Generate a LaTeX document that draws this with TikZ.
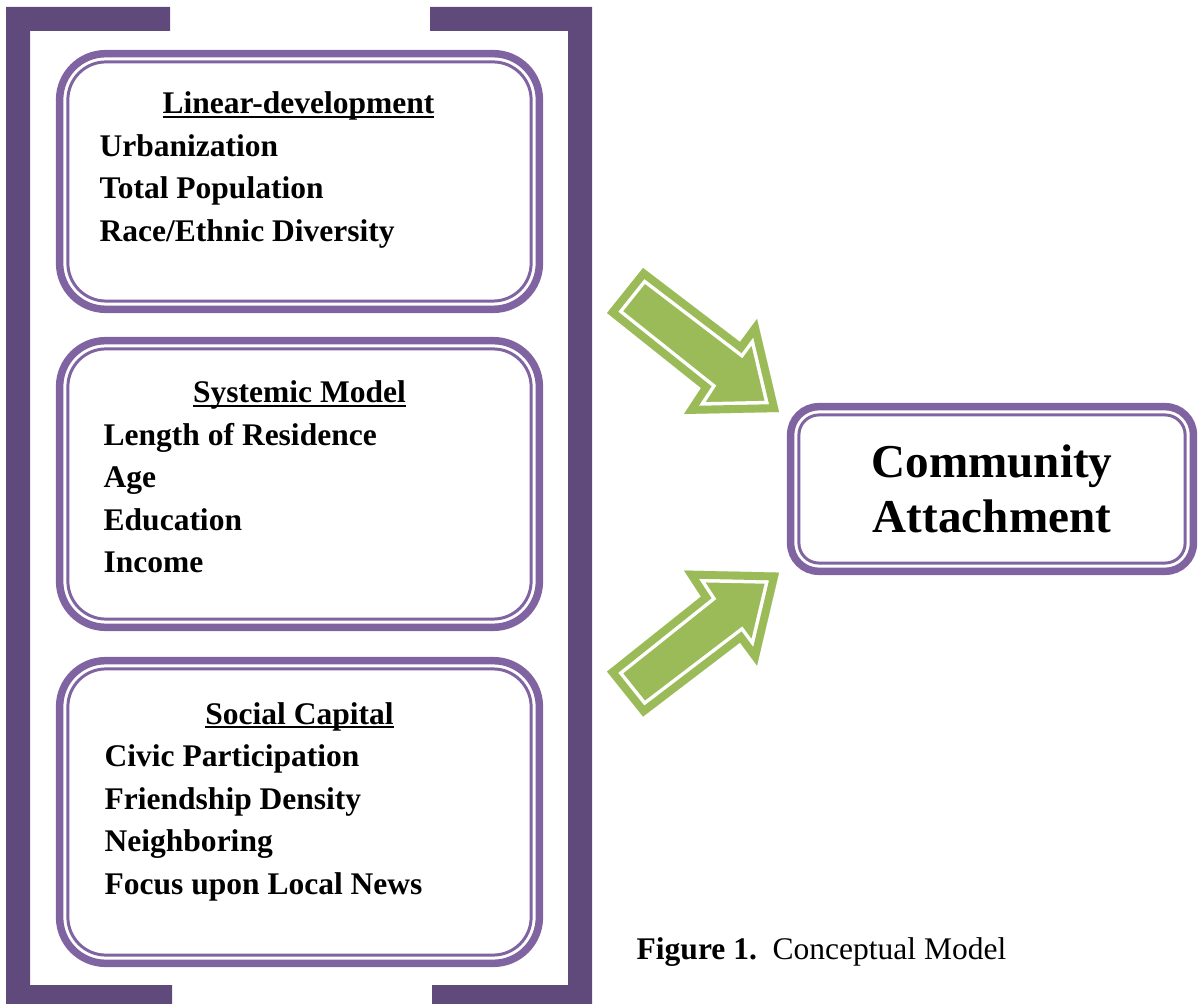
\documentclass[tikz,border=0pt]{standalone}
\usepackage{fontspec}
\setmainfont{Liberation Serif}
\usepackage{tikz}

\definecolor{bracketpurple}{HTML}{604A7B}
\definecolor{boxpurple}{HTML}{8064A2}
\definecolor{arrowgreen}{HTML}{9BBB59}

\newcommand{\boxfont}{\fontsize{8.96}{12}\selectfont\bfseries}
\newcommand{\ulhead}[1]{\setbox0=\hbox{#1}\rlap{\rule[-1.2pt]{\wd0}{0.7pt}}\box0}

\tikzset{
  panel/.style={draw=boxpurple, line width=2.13pt, rounded corners=4.6mm,
    outer sep=0pt, inner sep=0pt},
  innerline/.style={draw=boxpurple, line width=0.85pt, rounded corners=3.8mm},
  heading/.style={font=\boxfont, anchor=base, inner sep=0pt},
  item/.style={font=\boxfont, anchor=base west, inner sep=0pt},
  arrowbody/.style={insert path={(607,313) -- (643,268) -- (740,342) -- (757,319)
    -- (779,412) -- (684,414) -- (701,388) -- cycle}},
  upper/.style={},
  lower/.style={yshift=-9.84cm, yscale=-1},
}

\begin{document}
\begin{tikzpicture}[x=0.01cm, y=-0.01cm]
\useasboundingbox (0,0) rectangle (1198,1004);

% Bracket round the three groups
\fill[bracketpurple] (6,7) -- (170,7) -- (170,31) -- (30,31) -- (30,985)
  -- (172,985) -- (172,1010) -- (6,1010) -- cycle;
\fill[bracketpurple] (592,7) -- (430,7) -- (430,31) -- (568,31) -- (568,985)
  -- (432,985) -- (432,1010) -- (592,1010) -- cycle;

% Group boxes
\node[panel, minimum width=4.795cm, minimum height=2.555cm] (ldbox) at (299.5,181.5) {};
\node[panel, minimum width=4.795cm, minimum height=2.865cm] (smbox) at (299.5,484) {};
\node[panel, minimum width=4.795cm, minimum height=3.025cm] (scbox) at (299.5,812) {};
\foreach \b in {ldbox, smbox, scbox}
  \draw[innerline] ([shift={(8.25,8.25)}]\b.north west) rectangle ([shift={(-8.25,-8.25)}]\b.south east);

% Linear-development
\node[heading] (ldhead) at (298.5,114) {\ulhead{Linear-development}};
\foreach \txt [count=\i] in {Urbanization, Total Population, Race/Ethnic Diversity}
  \node[item] (ld\i) at (99,114+42.5*\i) {\txt};

% Systemic model
\node[heading] (smhead) at (299.5,403) {\ulhead{Systemic Model}};
\foreach \txt [count=\i] in {Length of Residence, Age, Education, Income}
  \node[item] (sm\i) at (103,403+42.5*\i) {\txt};

% Social capital
\node[heading] (schead) at (299.5,724) {\ulhead{Social Capital}};
\foreach \txt [count=\i] in {Civic Participation, Friendship Density, Neighboring, Focus upon Local News}
  \node[item] (sc\i) at (104,724+42.5*\i) {\txt};

% Outcome
\node[panel, rounded corners=2.8mm, minimum width=4.025cm, minimum height=1.645cm,
  align=center, font=\fontsize{13.4}{15.6}\selectfont\bfseries] (cabox) at (992,489)
  {Community\\Attachment};
\draw[innerline, rounded corners=2mm] ([shift={(8.25,8.25)}]cabox.north west)
  rectangle ([shift={(-8.25,-8.25)}]cabox.south east);

% Block arrows, the lower one mirrored
\foreach \side in {upper, lower} {
  \begin{scope}[\side]
    \fill[arrowgreen, arrowbody];
    \begin{scope}
      \clip[arrowbody];
      \draw[white, line width=6.5pt, line join=miter, arrowbody];
      \draw[arrowgreen, line width=4.5pt, line join=miter, arrowbody];
    \end{scope}
  \end{scope}
}

% Caption
\node[anchor=base west, inner sep=0pt, font=\fontsize{8.96}{12}\selectfont] (caption)
  at (636,959) {\textbf{Figure 1.}\ \ Conceptual Model};
\end{tikzpicture}
\end{document}
